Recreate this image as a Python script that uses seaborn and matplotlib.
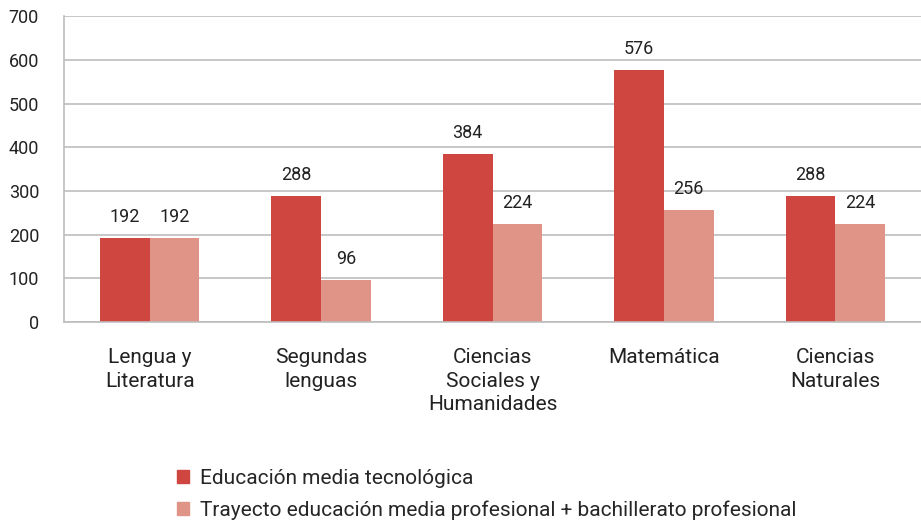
import pandas as pd
import seaborn as sns
import matplotlib.pyplot as plt
from matplotlib.patches import Patch

categorias = ['Lengua y\nLiteratura', 'Segundas\nlenguas', 'Ciencias\nSociales y\nHumanidades',
              'Matemática', 'Ciencias\nNaturales']
series = ['Educación media tecnológica',
          'Trayecto educación media profesional + bachillerato profesional']
tecnologica = [192, 288, 384, 576, 288]
profesional = [192, 96, 224, 256, 224]
colores = ['#CF4540', '#E09488']

df = pd.DataFrame({'categoria': categorias * 2,
                   'serie': [series[0]] * 5 + [series[1]] * 5,
                   'horas': tecnologica + profesional})

sns.set_style('white')
plt.rcParams['font.family'] = ['Roboto', 'DejaVu Sans']

fig = plt.figure(figsize=(9.21, 5.21), dpi=100)
ax = fig.add_axes([0.0695, 0.382, 0.9305, 0.587])

sns.barplot(data=df, x='categoria', y='horas', hue='serie', palette=colores,
            width=0.58, saturation=1, linewidth=0, ax=ax, legend=False)

for cont in ax.containers:
    ax.bar_label(cont, padding=9, fontsize=13, color='#222222')

ax.set_ylim(0, 700)
ax.set_yticks(range(0, 701, 100))
ax.set_xlim(-0.5, 4.5)
ax.set_xlabel('')
ax.set_ylabel('')
ax.yaxis.grid(True, color='#BDBDBD', linewidth=1.2)
ax.set_axisbelow(True)
for s in ['top', 'right']:
    ax.spines[s].set_visible(False)
for s in ['left', 'bottom']:
    ax.spines[s].set_color('#BDBDBD')
    ax.spines[s].set_linewidth(1.2)

ax.tick_params(axis='y', length=6, color='#BDBDBD', width=1.2, labelsize=13, pad=12, labelcolor='#222222')
ax.set_xticks([-0.5, 0.5, 1.5, 2.5, 3.5], minor=True)
ax.tick_params(axis='x', which='minor', length=6, color='#BDBDBD', width=1.2)
ax.tick_params(axis='x', which='major', length=0, labelsize=15, pad=19, labelcolor='#222222')
ax.set_xticks(range(5))
ax.set_xticklabels(categorias, linespacing=1.3)

handles = [Patch(color=c) for c in colores]
fig.legend(handles, series, loc='upper left', bbox_to_anchor=(0.192, 0.10),
           frameon=False, fontsize=15, handlelength=0.6, handleheight=0.6,
           handletextpad=0.5, labelspacing=0.6, borderaxespad=0, borderpad=0)

fig.savefig('out.png', dpi=100)
